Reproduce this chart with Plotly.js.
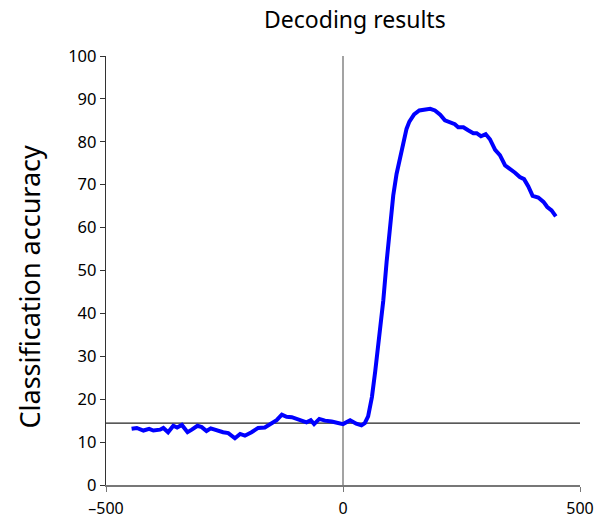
<!DOCTYPE html>
<html>
<head>
<meta charset="utf-8">
<script src="https://cdn.plot.ly/plotly-3.0.1.min.js"></script>
<style>html,body{margin:0;padding:0;background:#fff;}#chart{width:599px;height:520px;}</style>
</head>
<body>
<div id="chart"></div>
<script>
const times = [-446,-435,-421,-409,-400,-386,-379,-369,-358,-350,-340,-328,-319,-307,-298,-288,-279,-266,-253,-242,-228,-217,-207,-193,-179,-165,-154,-140,-129,-119,-108,-98,-87,-77,-68,-61,-50,-38,-24,-10,0,15,28,39,46,53,61,68,78,85,92,99,106,113,120,127,134,140,150,161,173,184,194,205,215,226,236,243,254,264,275,282,291,301,310,321,331,342,352,363,373,382,391,400,412,423,431,440,449];
const accuracy = [13.1,13.3,12.7,13.1,12.7,12.9,13.3,12.3,13.8,13.4,14.0,12.3,12.9,13.8,13.5,12.6,13.2,12.7,12.3,12.1,10.9,11.9,11.5,12.3,13.3,13.4,14.1,15.1,16.4,15.9,15.8,15.4,15.1,14.6,15.1,14.2,15.4,15.0,14.8,14.5,14.2,15.1,14.3,13.9,14.4,16,20.5,26.5,35.5,43,52,60,67.5,72.5,76,80,83,84.7,86.4,87.3,87.4,87.7,87.3,86.3,85.0,84.5,84.1,83.4,83.4,82.7,82.0,82.0,81.3,81.8,80.6,78.1,76.9,74.5,73.8,72.8,71.8,71.3,69.6,67.4,67.0,66.0,64.8,64.0,62.6];
const chanceLevel = 14.4;
const stimulusOnset = 0;
const xTicks = [-500, 0, 500];
const yTicks = [0,10,20,30,40,50,60,70,80,90,100];
const titleText = "Decoding results";
const yTitleText = "Classification accuracy";

const font = "Noto Sans, Open Sans, sans-serif";
const trace = {
  x: times, y: accuracy, type: "scatter", mode: "lines",
  line: {color: "#0000ff", width: 4}, hoverinfo: "skip"
};
const layout = {
  width: 599, height: 520,
  margin: {l: 106, r: 19, t: 56, b: 35, pad: 0},
  paper_bgcolor: "#ffffff", plot_bgcolor: "#ffffff",
  showlegend: false,
  font: {family: font, color: "#000"},
  title: {text: titleText, font: {size: 23, family: font, color: "#000"},
          xref: "paper", x: 0.525, xanchor: "center", yref: "container", y: 0.962, yanchor: "middle"},
  xaxis: {range: [-500, 500], tickvals: xTicks, ticktext: xTicks.map(v => v < 0 ? "\u2013" + Math.abs(v) : String(v)),
          showgrid: false, zeroline: false, showline: true, linecolor: "#777", linewidth: 1.5,
          ticks: "outside", ticklen: 5, tickcolor: "#777", tickwidth: 1, ticklabelstandoff: 3,
          tickfont: {size: 16, family: font, color: "#000"}, fixedrange: true},
  yaxis: {range: [0, 100], tickvals: yTicks, showgrid: false, zeroline: false, showline: true,
          linecolor: "#333", linewidth: 1.2, ticks: "outside", ticklen: 5, tickcolor: "#333", tickwidth: 1,
          tickfont: {size: 16.5, family: font, color: "#000"}, fixedrange: true},
  shapes: [
    {type: "line", xref: "x", yref: "paper", x0: stimulusOnset, x1: stimulusOnset, y0: 0, y1: 1,
     line: {color: "#666", width: 1.2}, layer: "below"},
    {type: "line", xref: "paper", yref: "y", x0: 0, x1: 1, y0: chanceLevel, y1: chanceLevel,
     line: {color: "#222", width: 1.2}, layer: "below"}
  ],
  annotations: [
    {text: yTitleText, xref: "paper", yref: "paper", x: -76/474, y: (485-287)/428, xanchor: "center", yanchor: "middle",
     textangle: -90, showarrow: false, font: {size: 27, family: font, color: "#000"}}
  ]
};
Plotly.newPlot("chart", [trace], layout, {displayModeBar: false, staticPlot: true});
</script>
</body>
</html>
